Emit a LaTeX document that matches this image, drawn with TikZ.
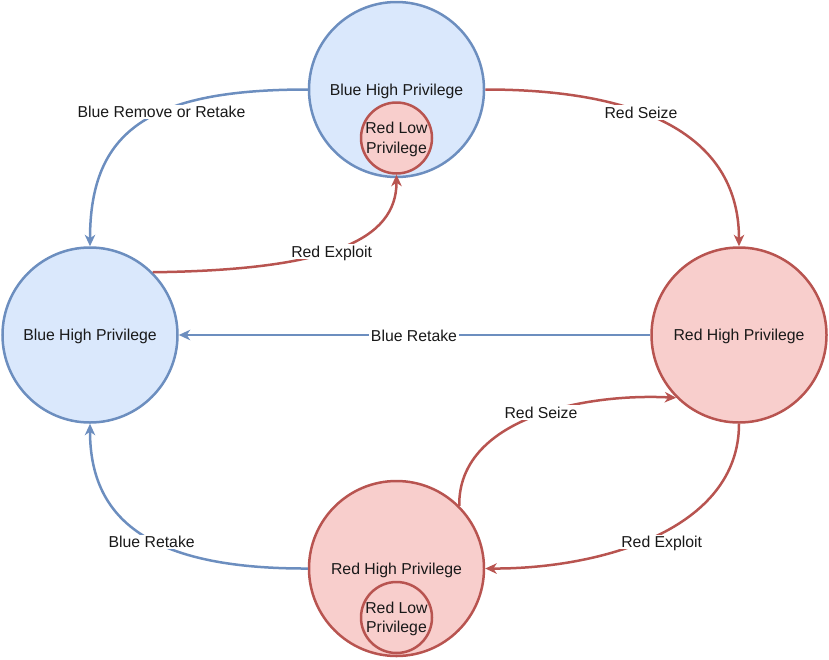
\documentclass[tikz,border=0pt]{standalone}
\usepackage{fontspec}
\setmainfont{Liberation Sans}
\usetikzlibrary{arrows.meta}
\definecolor{bstroke}{HTML}{6C8EBF}
\definecolor{bfill}{HTML}{DAE8FC}
\definecolor{rstroke}{HTML}{B85450}
\definecolor{rfill}{HTML}{F8CECC}
\begin{document}
\begin{tikzpicture}[x=1pt,y=-1pt,
  txt/.style={font=\fontsize{15.8}{19.5}\selectfont, text=black!90, text depth=0pt},
  state/.style={txt, circle, line width=2.5pt, minimum size=175pt, inner sep=0pt},
  bluestate/.style={state, draw=bstroke, fill=bfill},
  redstate/.style={state, draw=rstroke, fill=rfill},
  smallstate/.style={txt, circle, draw=rstroke, fill=rfill, line width=2.5pt, minimum size=71pt, inner sep=0pt, align=center},
  conn/.style={line width=2.5pt},
  blueconn/.style={conn, draw=bstroke, -{Stealth[length=11.5pt,width=10.5pt,inset=3.5pt,fill=bstroke]}},
  redconn/.style={conn, draw=rstroke, -{Stealth[length=11.5pt,width=10.5pt,inset=3.5pt,fill=rstroke]}},
  lbl/.style={txt, fill=white, inner sep=1.5pt}
]
\useasboundingbox (0,0) rectangle (829,659);
\node[bluestate] (top) at (396.5,89.5) {Blue High Privilege};
\node[smallstate] (topin) at (396.5,138) {Red Low\\Privilege};
\node[bluestate] (left) at (90,335) {Blue High Privilege};
\node[redstate] (right) at (739,335) {Red High Privilege};
\node[redstate] (bot) at (396.5,568.5) {Red High Privilege};
\node[smallstate] (botin) at (396.5,617.5) {Red Low\\Privilege};

\draw[blueconn] (top.west) .. controls (150,89.5) and (90,130) .. (left.north);
\draw[redconn] (left.45) .. controls (330,270) and (396.5,240) .. (topin.south);
\draw[redconn] (top.east) .. controls (650,89.5) and (739,140) .. (right.north);
\draw[blueconn] (right.west) -- (left.east);
\draw[redconn] (bot.45) .. controls (458,420) and (580,393) .. (right.225);
\draw[redconn] (right.south) .. controls (739,530) and (600,569) .. (bot.east);
\draw[blueconn] (bot.west) .. controls (150,569) and (90,520) .. (left.south);

\node[lbl] (l1) at (161.5,112) {Blue Remove or Retake};
\node[lbl] (l2) at (331.7,251.7) {Red Exploit};
\node[lbl] (l3) at (641,112.7) {Red Seize};
\node[lbl] (l4) at (414,336) {Blue Retake};
\node[lbl] (l5) at (541,412.7) {Red Seize};
\node[lbl] (l6) at (661.7,542) {Red Exploit};
\node[lbl] (l7) at (151.7,542) {Blue Retake};
\end{tikzpicture}
\end{document}
